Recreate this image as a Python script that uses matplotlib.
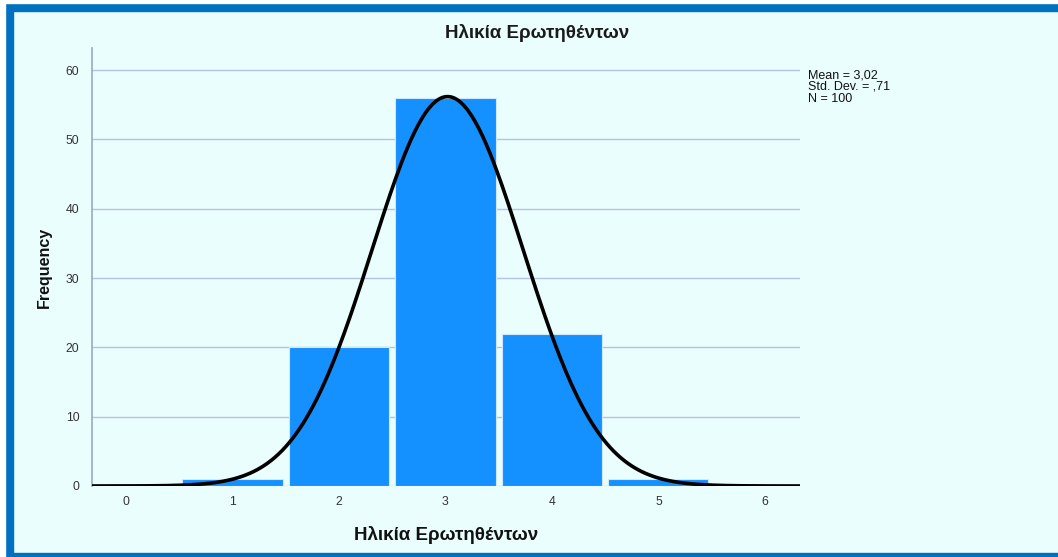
import numpy as np
import matplotlib
matplotlib.use("Agg")
import matplotlib.pyplot as plt
from matplotlib.patches import Rectangle

plt.rcParams['font.family'] = ['Liberation Sans', 'DejaVu Sans']

ages = [1, 2, 3, 4, 5]
freq = [1, 20, 56, 22, 1]
mean = 3.02
std = 0.71
n = 100
title = "Ηλικία Ερωτηθέντων"
stats_text = "Mean = 3,02\nStd. Dev. = ,71\nN = 100"

bg = "#ebfefe"
fig = plt.figure(figsize=(10.58, 5.57), dpi=100, facecolor=bg)

# blue frame (top, left, bottom)
fig.patches.append(Rectangle((0, 1 - 11 / 557), 1, 8 / 557, transform=fig.transFigure,
                             color="#0070c0", zorder=0))
fig.patches.append(Rectangle((5 / 1058, 0), 8 / 1058, 1 - 3 / 557, transform=fig.transFigure,
                             color="#0070c0", zorder=0))
fig.patches.append(Rectangle((0, 0), 1, 4 / 557, transform=fig.transFigure,
                             color="#0070c0", zorder=0))
fig.patches.append(Rectangle((0, 1 - 3 / 557), 1, 3 / 557, transform=fig.transFigure,
                             color="white", zorder=0))
fig.patches.append(Rectangle((0, 0), 5 / 1058, 1, transform=fig.transFigure,
                             color="white", zorder=0))

ax = fig.add_axes([92 / 1058, 1 - 486 / 557, 708 / 1058, 438 / 557])
ax.set_facecolor(bg)

ax.bar(ages, freq, width=0.94, color="#1590ff", edgecolor="#cfe8ff", linewidth=0.8, zorder=2)

xs = np.linspace(-0.32, 6.33, 400)
curve = n * np.exp(-0.5 * ((xs - mean) / std) ** 2) / (std * np.sqrt(2 * np.pi))
ax.plot(xs, curve, color="black", linewidth=2.6, zorder=3, solid_capstyle="butt")

ax.set_xlim(-0.32, 6.33)
ax.set_ylim(0, 63.2)
ax.set_xticks(range(0, 7))
ax.set_yticks(range(0, 61, 10))
ax.yaxis.grid(True, color="#b4c4e0", linewidth=1.0, zorder=1)
ax.set_axisbelow(True)
ax.tick_params(length=0, labelsize=8.8, labelcolor="#333333")
ax.tick_params(axis="x", pad=7)
ax.tick_params(axis="y", pad=9)
for s in ["top", "right", "bottom"]:
    ax.spines[s].set_visible(False)
ax.spines["left"].set_color("#9aa8c8")
ax.spines["left"].set_linewidth(1.2)

ax.set_xlabel(title, fontsize=13.5, fontweight="bold", labelpad=13, color="#111111")
ax.set_ylabel("Frequency", fontsize=11.5, fontweight="bold", labelpad=10, color="#111111")

fig.text(537 / 1058, 1 - 33 / 557, title, ha="center", va="center", fontsize=13.5,
         fontweight="bold", color="#1a1a1a")
fig.text(808 / 1058, 1 - 69 / 557, stats_text, ha="left", va="top", fontsize=9,
         linespacing=0.98, color="#111111")

fig.savefig("out.png", dpi=100, facecolor=bg)
